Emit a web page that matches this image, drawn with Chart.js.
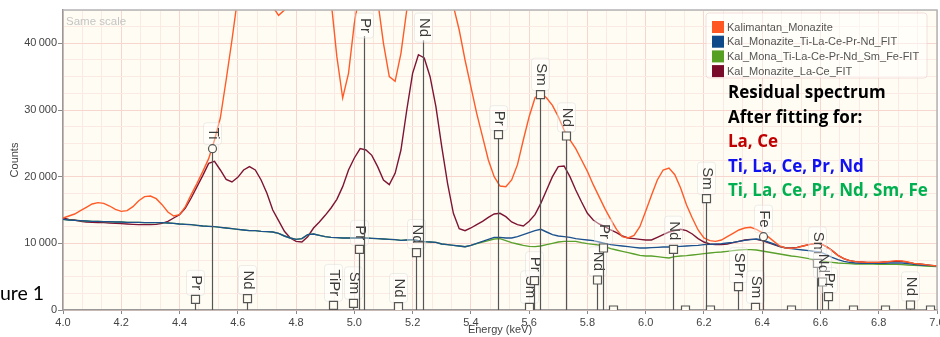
<!DOCTYPE html>
<html>
<head>
<meta charset="utf-8">
<script src="https://cdn.jsdelivr.net/npm/chart.js@4.4.1/dist/chart.umd.min.js"></script>
<style>
  html, body { margin: 0; padding: 0; background: #fff; }
  #wrap { width: 940px; height: 337px; }
</style>
</head>
<body>
<div id="wrap"><canvas id="chart" width="940" height="337"></canvas></div>
<script>
// energy channels (keV)
const energy = [
  4.00, 4.02, 4.04, 4.06, 4.08, 4.10, 4.12, 4.14, 4.16, 4.18,
  4.20, 4.22, 4.24, 4.26, 4.28, 4.30, 4.32, 4.34, 4.36, 4.38,
  4.40, 4.42, 4.44, 4.46, 4.48, 4.50, 4.52, 4.54, 4.56, 4.58,
  4.60, 4.62, 4.64, 4.66, 4.68, 4.70, 4.72, 4.74, 4.76, 4.78,
  4.80, 4.82, 4.84, 4.86, 4.88, 4.90, 4.92, 4.94, 4.96, 4.98,
  5.00, 5.02, 5.04, 5.06, 5.08, 5.10, 5.12, 5.14, 5.16, 5.18,
  5.20, 5.22, 5.24, 5.26, 5.28, 5.30, 5.32, 5.34, 5.36, 5.38,
  5.40, 5.42, 5.44, 5.46, 5.48, 5.50, 5.52, 5.54, 5.56, 5.58,
  5.60, 5.62, 5.64, 5.66, 5.68, 5.70, 5.72, 5.74, 5.76, 5.78,
  5.80, 5.82, 5.84, 5.86, 5.88, 5.90, 5.92, 5.94, 5.96, 5.98,
  6.00, 6.02, 6.04, 6.06, 6.08, 6.10, 6.12, 6.14, 6.16, 6.18,
  6.20, 6.22, 6.24, 6.26, 6.28, 6.30, 6.32, 6.34, 6.36, 6.38,
  6.40, 6.42, 6.44, 6.46, 6.48, 6.50, 6.52, 6.54, 6.56, 6.58,
  6.60, 6.62, 6.64, 6.66, 6.68, 6.70, 6.72, 6.74, 6.76, 6.78,
  6.80, 6.82, 6.84, 6.86, 6.88, 6.90, 6.92, 6.94, 6.96, 6.98,
  7.00
];

// Kalimantan_Monazite (measured)
const monazite = [
  13800, 14100, 14400, 14900, 15400, 15900, 16100, 16000, 15600, 15100,
  14800, 14900, 15500, 16400, 17000, 17100, 16700, 15800, 14700, 14100,
  14300, 15500, 17300, 19000, 20800, 22700, 25500, 28800, 34500, 40500,
  47000, 52000, 55000, 54000, 51000, 48000, 45500, 44200, 45000, 48000,
  53000, 58000, 60000, 57000, 52000, 49000, 46500, 38000, 31800, 35500,
  43000, 48000, 50000, 49000, 46500, 40000, 35000, 34300, 38500, 45000,
  52000, 56000, 56000, 53000, 50000, 48000, 46800, 45600, 42000, 37500,
  33500, 29500, 26000, 22500, 20000, 18600, 18500, 19500, 21800, 25500,
  29000, 31800, 32600, 31800, 30700, 29000, 27000, 25500, 24200, 22500,
  20800, 18800, 17000, 15200, 13600, 12100, 11000, 10800, 11200, 12500,
  14800, 17200, 19500, 21000, 21300, 20300, 18300, 15800, 13800, 12000,
  10800, 10400, 10300, 10500, 11000, 11500, 12000, 12300, 12400, 12100,
  11600, 11000, 10300, 9600, 9300, 9250, 9350, 9600, 9800, 10000,
  10000, 9500, 8900, 8200, 7700, 7400, 7250, 7200, 7150, 7150,
  7150, 7200, 7300, 7400, 7350, 7200, 7000, 6900, 6800, 6700,
  6600
];

// Kal_Monazite_Ti-La-Ce-Pr-Nd_FIT
const fitTiNd = [
  13600, 13500, 13450, 13400, 13350, 13300, 13300, 13250, 13250, 13200,
  13200, 13150, 13150, 13150, 13100, 13100, 13100, 13100, 13050, 13000,
  12900, 12850, 12800, 12700, 12600, 12550, 12500, 12400, 12300, 12200,
  12100, 12000, 11900, 11900, 11800, 11750, 11700, 11500, 11100, 10800,
  10600, 10700, 11300, 11400, 11200, 11000, 10900, 10850, 10800, 10800,
  10800, 10800, 10800, 10750, 10700, 10650, 10600, 10550, 10450, 10500,
  10550, 10400, 10250, 10200, 10150, 9900, 9800, 9700, 9600, 9500,
  9700, 10000, 10300, 10600, 10900, 10900, 10800, 10800, 11000, 11300,
  11600, 11900, 12100, 11700, 11300, 11100, 11000, 10900, 10700, 10600,
  10500, 10400, 10200, 10000, 9800, 9700, 9600, 9500, 9400, 9300,
  9300, 9350, 9400, 9450, 9450, 9500, 9550, 9600, 9650, 9700,
  9800, 9850, 9900, 9950, 10050, 10150, 10300, 10450, 10550, 10650,
  10500, 10200, 9900, 9550, 9300, 9200, 9100, 9000, 8900, 8800,
  8700, 8300, 7900, 7550, 7300, 7150, 7050, 7000, 7000, 7000,
  7000, 7000, 7050, 7050, 7050, 6950, 6850, 6750, 6700, 6650,
  6600
];

// Kal_Mona_Ti-La-Ce-Pr-Nd_Sm_Fe-FIT
const fitTiFe = [
  13600, 13500, 13450, 13400, 13350, 13300, 13300, 13250, 13250, 13200,
  13200, 13150, 13150, 13150, 13100, 13100, 13100, 13100, 13050, 13000,
  12900, 12850, 12800, 12700, 12600, 12550, 12500, 12400, 12300, 12200,
  12100, 12000, 11900, 11900, 11800, 11750, 11700, 11500, 11100, 10800,
  10600, 10700, 11300, 11400, 11200, 11000, 10900, 10850, 10800, 10800,
  10800, 10800, 10800, 10750, 10700, 10650, 10600, 10550, 10450, 10500,
  10550, 10400, 10250, 10200, 10150, 9900, 9800, 9700, 9600, 9500,
  9700, 9950, 10200, 10400, 10650, 10700, 10400, 10100, 9900, 9700,
  9550, 9500, 9600, 9800, 10000, 10200, 10300, 10300, 10300, 10100,
  9950, 9850, 9750, 9500, 9200, 9000, 8800, 8600, 8400, 8200,
  8100, 8100, 8000, 7900, 7800, 8000, 8100, 8150, 8250, 8350,
  8450, 8550, 8650, 8700, 8800, 8900, 9000, 9050, 9050, 9000,
  8850, 8700, 8550, 8400, 8250, 8100, 8000, 7850, 7700, 7500,
  7350, 7250, 7150, 7050, 7000, 6950, 6900, 6900, 6900, 6900,
  6850, 6850, 6850, 6850, 6800, 6750, 6700, 6650, 6600, 6550,
  6500
];

// Kal_Monazite_La-Ce_FIT
const fitLaCe = [
  13800, 13600, 13500, 13300, 13200, 13150, 13100, 13100, 13050, 13000,
  12950, 12900, 12850, 12800, 12800, 12800, 12850, 13000, 13300, 13800,
  14300, 15300, 16800, 18500, 20200, 22000, 22300, 21000, 19600, 19200,
  19900, 21000, 21500, 21000, 19500, 17500, 15000, 13400, 11800, 10800,
  10300, 10200, 11000, 12300, 13200, 14200, 15300, 16600, 18500, 21000,
  22800, 24200, 24000, 23200, 21500, 19500, 18800, 20500, 24000, 30000,
  35500, 38300, 37800, 35000, 30500, 24500, 19000, 14500, 12200, 11900,
  12300, 12800, 13300, 13900, 14400, 14500, 14000, 13200, 12800, 12600,
  13300, 14300, 16000, 18000, 20000, 21500, 21600, 20000, 18000, 16200,
  14500, 13500, 12900, 12500, 12000, 11600, 11100, 10800, 10700, 10600,
  10500, 10500, 10900, 11300, 11700, 11900, 12100, 11900, 11400, 10700,
  10200, 9900, 9800, 9800, 9900, 10100, 10300, 10500, 10600, 10600,
  10400, 10100, 9800, 9500, 9350, 9300, 9400, 9600, 9800, 9950,
  9950, 9500, 8900, 8200, 7700, 7400, 7250, 7200, 7150, 7150,
  7150, 7200, 7250, 7300, 7300, 7150, 7000, 6900, 6800, 6700,
  6600
];

const seriesNames = [
  'Kalimantan_Monazite',
  'Kal_Monazite_Ti-La-Ce-Pr-Nd_FIT',
  'Kal_Mona_Ti-La-Ce-Pr-Nd_Sm_Fe-FIT',
  'Kal_Monazite_La-Ce_FIT'
];

const xTickLabels = ['4.0', '4.2', '4.4', '4.6', '4.8', '5.0', '5.2', '5.4',
                     '5.6', '5.8', '6.0', '6.2', '6.4', '6.6', '6.8', '7.0'];
const yTickValues = [0, 10000, 20000, 30000, 40000];

// element line markers: energy, marker height (counts), label, marker shape
const lineEnergy = [4.453, 4.510, 4.633, 4.928, 4.995, 5.016, 5.034, 5.149, 5.212, 5.234,
                    5.494, 5.598, 5.615, 5.637, 5.726, 5.832, 5.853, 5.889, 6.095, 6.135,
                    6.207, 6.221, 6.318, 6.375, 6.404, 6.500, 6.588, 6.605, 6.625, 6.713,
                    6.820, 6.908, 6.976];
const lineHeight = [1600, 24200, 1700, 700, 1000, 9100, 50000, 500, 8600, 50000,
                    26300, 400, 4400, 32300, 26100, 4500, 9300, 0, 9100, 0,
                    16700, 0, 3500, 400, 11000, 0, 7000, 4200, 2000, 0,
                    0, 750, 0];
const lineLabel = ['Pr', 'Ti', 'Nd', 'TiPr', 'Sm', 'Pr', 'Pr', 'Nd', 'Nd', 'Nd',
                   'Pr', 'Sm', 'Pr', 'Sm', 'Nd', 'Nd', 'Pr', '', 'Nd', '',
                   'Sm', '', 'SPr', 'Sm', 'Fe', '', 'Sm', 'Nd', 'Pr', '',
                   '', 'Nd', ''];
const lineShape = ['s', 'o', 's', 's', 's', 's', 's', 's', 's', 's',
                   's', 's', 's', 's', 's', 's', 's', 's', 's', 's',
                   's', 's', 's', 's', 'o', 's', 's', 's', 's', 's',
                   's', 's', 's'];

const noteLines = ['Residual spectrum', 'After fitting for:', 'La, Ce',
                   'Ti, La, Ce, Pr, Nd', 'Ti, La, Ce, Pr, Nd, Sm, Fe'];
const noteColors = ['#000', '#000', '#c00000', '#1010f0', '#00b050'];

const lineColors = ['#ff5b28', '#1d528f', '#5aa02c', '#7d1434'];
const swatchColors = ['#ff5722', '#0e4a8a', '#55a023', '#780a2a'];

// minor grid: thirds between x majors, quarters between y majors
const xMajor = xTickLabels.map(Number);
const xGrid = [];
xMajor.forEach((v, i) => {
  xGrid.push(v);
  if (i < xMajor.length - 1) {
    const d = (xMajor[i + 1] - v) / 3;
    xGrid.push(v + d, v + 2 * d);
  }
});
const yGrid = [];
yTickValues.forEach((v) => { yGrid.push(v, v + 2500, v + 5000, v + 7500); });
yGrid.push(45000);

const isXMajor = (v) => xMajor.some((m) => Math.abs(m - v) < 1e-6);
const isYMajor = (v) => yTickValues.indexOf(v) >= 0;

Chart.defaults.font.family = '"Liberation Sans", Arial, sans-serif';
Chart.defaults.font.size = 11;
Chart.defaults.color = '#444';

const plotBg = {
  id: 'plotBg',
  beforeDraw(chart) {
    const { ctx, chartArea: a } = chart;
    ctx.save();
    ctx.fillStyle = '#fffdf3';
    ctx.fillRect(a.left, a.top, a.right - a.left, a.bottom - a.top);
    ctx.restore();
  }
};

function roundRect(ctx, x, y, w, h, r) {
  ctx.beginPath();
  ctx.moveTo(x + r, y);
  ctx.arcTo(x + w, y, x + w, y + h, r);
  ctx.arcTo(x + w, y + h, x, y + h, r);
  ctx.arcTo(x, y + h, x, y, r);
  ctx.arcTo(x, y, x + w, y, r);
  ctx.closePath();
}

const elementLines = {
  id: 'elementLines',
  afterDatasetsDraw(chart) {
    const { ctx, chartArea: a, scales: { x, y } } = chart;
    const base = y.getPixelForValue(0);
    ctx.save();
    ctx.beginPath();
    ctx.rect(a.left, a.top, a.right - a.left, a.bottom - a.top);
    ctx.clip();
    ctx.font = '15px "Liberation Sans", Arial, sans-serif';
    lineEnergy.forEach((e, i) => {
      const px = Math.round(x.getPixelForValue(e)) + 0.5;
      const py = y.getPixelForValue(lineHeight[i]);
      const text = lineLabel[i];
      let lineTop = py;
      let top = 0, w = 0;
      if (text) {
        w = ctx.measureText(text).width;
        top = py - 9 - w;
        if (top < a.top + 8) {
          top = a.top + 8;
          lineTop = Math.max(py, top + w + 3);
        }
      }
      ctx.strokeStyle = '#555';
      ctx.lineWidth = 1.2;
      ctx.beginPath();
      ctx.moveTo(px, lineTop);
      ctx.lineTo(px, base);
      ctx.stroke();
      if (text) {
        ctx.fillStyle = 'rgba(255,255,255,0.4)';
        ctx.strokeStyle = 'rgba(215,215,215,0.45)';
        ctx.lineWidth = 1;
        roundRect(ctx, px - 9, top - 5, 18, w + 10, 3);
        ctx.fill();
        ctx.stroke();
        ctx.save();
        ctx.translate(px + 0.5, top);
        ctx.rotate(Math.PI / 2);
        ctx.fillStyle = '#3c3c3c';
        ctx.textAlign = 'left';
        ctx.textBaseline = 'middle';
        ctx.fillText(text, 0, 0);
        ctx.restore();
      }
      if (py > a.top) {
        ctx.fillStyle = '#fffdf3';
        ctx.strokeStyle = '#555';
        ctx.lineWidth = 1.2;
        ctx.beginPath();
        if (lineShape[i] === 'o') {
          ctx.arc(px, py, 4, 0, Math.PI * 2);
        } else {
          ctx.rect(px - 4, py - 4, 8, 8);
        }
        ctx.fill();
        ctx.stroke();
      }
    });
    ctx.restore();
  }
};

const overlay = {
  id: 'overlay',
  afterDraw(chart) {
    const { ctx, chartArea: a } = chart;
    ctx.save();
    // plot frame top/right
    ctx.strokeStyle = '#b4b4b4';
    ctx.lineWidth = 1.5;
    ctx.beginPath();
    ctx.moveTo(a.left, a.top);
    ctx.lineTo(a.right, a.top);
    ctx.lineTo(a.right, a.bottom);
    ctx.stroke();

    ctx.font = '11.5px "Liberation Sans", Arial, sans-serif';
    ctx.fillStyle = '#c4c4c4';
    ctx.textBaseline = 'middle';
    ctx.fillText('Same scale', a.left + 3, a.top + 12);

    // legend
    const lx = a.right - 231, ly = a.top + 3;
    ctx.fillStyle = 'rgba(255,255,255,0.5)';
    ctx.strokeStyle = 'rgba(235,205,205,0.6)';
    ctx.lineWidth = 1;
    roundRect(ctx, lx, ly, 221, 65, 3);
    ctx.fill();
    ctx.stroke();
    ctx.font = '11px "Liberation Sans", Arial, sans-serif';
    seriesNames.forEach((name, i) => {
      const ry = ly + 8 + i * 14.7;
      ctx.fillStyle = swatchColors[i];
      ctx.fillRect(lx + 6, ry, 12, 12);
      ctx.fillStyle = '#555';
      ctx.fillText(name, lx + 21, ry + 6.5);
    });

    // note
    ctx.font = 'bold 17px "Open Sans", "Liberation Sans", sans-serif';
    ctx.textBaseline = 'alphabetic';
    noteLines.forEach((t, i) => {
      ctx.fillStyle = noteColors[i];
      ctx.fillText(t, lx + 22, a.top + 88 + i * 24.5);
    });

    ctx.font = '19.5px Lato, "Liberation Sans", sans-serif';
    ctx.fillStyle = '#000';
    ctx.fillText('ure 1', 0, 300);
    ctx.restore();
  }
};

const datasets = [monazite, fitTiNd, fitTiFe, fitLaCe].map((arr, i) => ({
  label: seriesNames[i],
  data: energy.map((e, j) => ({ x: e, y: arr[j] })),
  borderColor: lineColors[i],
  borderWidth: 1.4,
  pointRadius: 0,
  tension: 0,
  fill: false
}));

new Chart(document.getElementById('chart'), {
  type: 'line',
  data: { datasets: datasets },
  options: {
    responsive: false,
    animation: false,
    events: [],
    layout: { padding: { top: 10, right: 3, left: 0, bottom: 0 } },
    plugins: { legend: { display: false }, tooltip: { enabled: false } },
    scales: {
      x: {
        type: 'linear',
        min: 4,
        max: 7,
        afterBuildTicks: (axis) => { axis.ticks = xGrid.map((v) => ({ value: v })); },
        afterFit: (s) => { s.height = 27; s.paddingLeft = 0; s.paddingRight = 0; },
        ticks: {
          autoSkip: false,
          maxRotation: 0,
          padding: 2,
          callback: (v) => {
            const k = xMajor.findIndex((m) => Math.abs(m - v) < 1e-6);
            return k >= 0 ? xTickLabels[k] : '';
          }
        },
        grid: {
          color: (c) => (c.tick && isXMajor(c.tick.value)) ? '#f7d6cf' : '#fbe9e4',
          tickColor: (c) => (c.tick && isXMajor(c.tick.value)) ? '#888' : 'rgba(0,0,0,0)',
          tickLength: 4
        },
        border: { color: '#999', width: 1.5 },
        title: { display: true, text: 'Energy (keV)', padding: 0 }
      },
      y: {
        min: 0,
        max: 45000,
        afterBuildTicks: (axis) => { axis.ticks = yGrid.map((v) => ({ value: v })); },
        afterFit: (s) => { s.width = 63; s.paddingTop = 0; s.paddingBottom = 0; },
        ticks: {
          autoSkip: false,
          padding: 1,
          callback: (v) => isYMajor(v) ? (v === 0 ? '0' : (v / 1000) + '\u2009000') : ''
        },
        grid: {
          color: (c) => (c.tick && isYMajor(c.tick.value)) ? '#f7d6cf' : '#fbe9e4',
          tickColor: (c) => (c.tick && isYMajor(c.tick.value)) ? '#888' : 'rgba(0,0,0,0)',
          tickLength: 5
        },
        border: { color: '#999', width: 1.5 },
        title: { display: true, text: 'Counts', padding: { top: 8, bottom: 0 } }
      }
    }
  },
  plugins: [plotBg, elementLines, overlay]
});
</script>
</body>
</html>
